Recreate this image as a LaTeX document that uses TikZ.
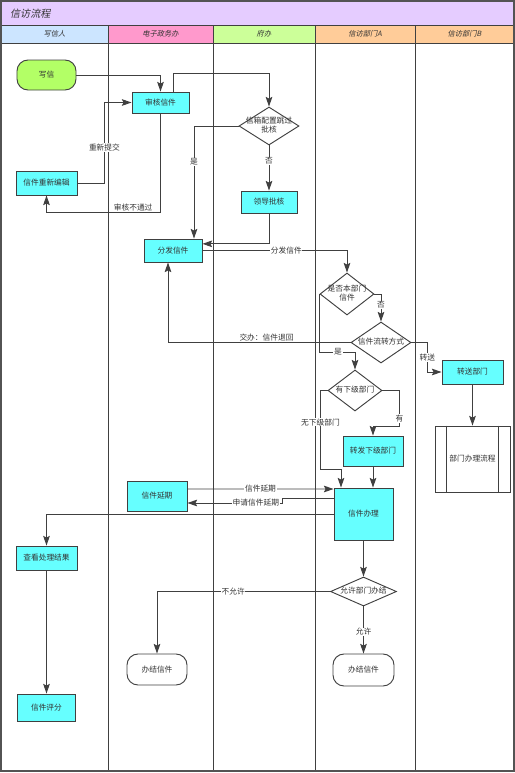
\documentclass[tikz,border=0pt]{standalone}
\usepackage{fontspec}
\newfontfamily\cjk{Noto Sans CJK SC}
\newfontfamily\cjksl[FakeSlant=0.2]{Noto Sans CJK SC}
\usepackage{tikz}
\usetikzlibrary{arrows.meta,positioning,shapes.geometric}
\usepackage{xcolor}
\definecolor{boxc}{HTML}{66FFFF}
\definecolor{startc}{HTML}{B3FF66}
\definecolor{titlec}{HTML}{E5CCFF}
\definecolor{hdA}{HTML}{CCE5FF}
\definecolor{hdB}{HTML}{FF99CC}
\definecolor{hdC}{HTML}{CCFF99}
\definecolor{hdD}{HTML}{FFCC99}
\definecolor{linec}{HTML}{404040}
\definecolor{txtc}{HTML}{333333}
\newcommand{\dtxt}[1]{\makebox[0pt]{\raisebox{\dimexpr(\depth-\height)/2\relax}[0pt][0pt]{\begin{tabular}{@{}c@{}}#1\end{tabular}}}}

\begin{document}
\begin{tikzpicture}[x=0.03cm, y=-0.03cm, every node/.style={font=\cjk\fontsize{6.6}{8.5}\selectfont, text=txtc}]
\tikzset{box/.style={draw=linec, fill=boxc, line width=0.8pt, inner sep=0pt}}
\tikzset{term/.style={draw=linec, rounded corners=0.33cm, line width=0.8pt, minimum width=1.8cm, minimum height=0.93cm, inner sep=0pt}}
\tikzset{dec/.style={draw=linec, diamond, fill=white, line width=0.8pt, inner sep=0pt}}
\tikzset{lbl/.style={fill=white, inner sep=0.6pt}}
\tikzset{arr/.style={draw=linec, line width=0.8pt, -{Stealth[length=2.9mm,width=2mm,inset=0.5mm]}}}
\tikzset{lane/.style={draw=linec, line width=0.8pt}}
\tikzset{hd/.style={font=\cjksl\fontsize{6.2}{7}\selectfont}}
\useasboundingbox (0,0) rectangle (515,773);
\fill[titlec] (1,1) rectangle (514,25);
\fill[hdA] (1,25) rectangle (108,43);
\fill[hdB] (108,25) rectangle (213,43);
\fill[hdC] (213,25) rectangle (315,43);
\fill[hdD] (315,25) rectangle (514,43);
\draw[lane] (1,25) -- (514,25);
\draw[lane] (1,43) -- (514,43);
\foreach \lx in {108,213,315,415}
  \draw[lane] (\lx,25) -- (\lx,771);
\draw[linec!90, line width=1.3pt] (1,1) rectangle (514,771);
\node[font=\cjksl\fontsize{8.6}{9}\selectfont, anchor=west] (ttl) at (6,13.5) {信访流程};
\node[hd] (h1) at (54.5,34) {写信人};
\node[hd] (h2) at (160.5,34) {电子政务办};
\node[hd] (h3) at (264,34) {府办};
\node[hd] (h4) at (365,34) {信访部门A};
\node[hd] (h5) at (464.5,34) {信访部门B};

\node[term, fill=startc, minimum width=1.77cm, minimum height=0.9cm] (xx) at (46.5,75) {写信};
\node[box, minimum width=1.71cm, minimum height=0.63cm] (sh) at (160.5,102.5) {审核信件};
\node[box, minimum width=1.83cm, minimum height=0.72cm] (cb) at (46.5,183) {信件重新编辑};
\node[dec, minimum width=1.8cm, minimum height=1.14cm] (d1) at (269,126) {\dtxt{信箱配置跳过\\批核}};
\node[box, minimum width=1.68cm, minimum height=0.66cm] (ldpd) at (269,202) {领导批核};
\node[box, minimum width=1.74cm, minimum height=0.69cm] (ff) at (173,250.5) {分发信件};
\node[dec, minimum width=1.62cm, minimum height=1.26cm] (d2) at (347,294) {\dtxt{是否本部门\\信件}};
\node[dec, minimum width=1.8cm, minimum height=1.23cm] (d3) at (381,342.5) {\dtxt{信件流转方式}};
\node[dec, minimum width=1.62cm, minimum height=1.23cm] (d4) at (355,390.5) {\dtxt{有下级部门}};
\node[box, minimum width=1.8cm, minimum height=0.9cm] (zf) at (373,451) {转发下级部门};
\node[box, minimum width=1.83cm, minimum height=0.72cm] (zs) at (472.5,372) {转送部门};
\node[draw=linec, line width=0.8pt, fill=white, minimum width=2.25cm, minimum height=1.98cm, inner sep=0pt] (lc) at (472.5,459) {部门办理流程};
\draw[lane] ([xshift=3.6mm]lc.north west) -- ([xshift=3.6mm]lc.south west);
\draw[lane] ([xshift=-3.6mm]lc.north east) -- ([xshift=-3.6mm]lc.south east);
\node[box, minimum width=1.77cm, minimum height=1.56cm] (bl) at (363.5,514) {信件办理};
\node[box, minimum width=1.8cm, minimum height=0.9cm] (yq) at (157,496) {信件延期};
\node[box, minimum width=1.83cm, minimum height=0.72cm] (ck) at (46.5,558) {查看处理结果};
\node[box, minimum width=1.74cm, minimum height=0.81cm] (pf) at (46.5,707.5) {信件评分};
\node[dec, minimum width=1.98cm, minimum height=0.87cm] (d5) at (363.5,591.5) {\dtxt{允许部门办结}};
\node[term, fill=white] (bj1) at (157,669.5) {办结信件};
\node[term, fill=white, minimum width=1.83cm, minimum height=0.96cm] (bj2) at (363.5,670) {办结信件};

\draw[arr] (xx.east) -| (sh.north);
\draw[arr] (cb.east) -- ++(27,0) |- node[lbl, pos=0.22]{重新提交} (sh.west);
\draw[arr] (sh.south) -- ++(0,99) -| node[above, inner sep=1pt, pos=0.12]{审核不通过} (cb.south);
\draw[arr] ([xshift=4mm]sh.north) -- ++(0,-18) -| (d1.north);
\draw[arr] (d1.west) -| node[lbl, pos=0.66]{是} ([xshift=6.3mm]ff.north);
\draw[arr] (d1.south) -- node[lbl, pos=0.35]{否} (ldpd.north);
\draw[arr] (ldpd.south) |- ([yshift=2mm]ff.east);
\draw[arr] (ff.east) -| node[lbl, pos=0.29]{分发信件} (d2.north);
\draw[arr] (d2.east) -| node[lbl, pos=0.7]{否} (d3.north);
\draw[arr] (d2.west) -- ++(0,58) -| node[lbl, pos=0.26]{是} (d4.north);
\draw[arr] (d3.west) -| node[above, inner sep=1pt, pos=0.23]{交办：信件退回} ([xshift=-1.5mm]ff.south);
\draw[arr] (d3.east) -- ++(16,0) |- node[lbl, pos=0.25]{转送} (zs.west);
\draw[arr] (d4.west) -- ++(-7,0) |- node[lbl, pos=0.2]{无下级部门} ([xshift=-6.75mm, yshift=5.4mm]bl.north) -- ([xshift=-6.75mm]bl.north);
\draw[arr] (d4.east) -- ++(17,0) -- node[lbl, pos=0.78]{有} ++(0,36) -| (zf.north);
\draw[arr] (zf.south) -- (zf.south |- bl.north);
\draw[arr] (zs) -- (lc);
\draw[arr] ([yshift=2.1mm]yq.east) -- node[lbl]{信件延期} ([yshift=7.5mm]bl.west);
\draw[arr] ([yshift=4.8mm]bl.west) -- ++(-51,0) |- node[lbl, pos=0.64]{申请信件延期} ([yshift=-2.1mm]yq.east);
\draw[arr] (bl.west) -| (ck.north);
\draw[arr] (ck) -- (pf);
\draw[arr] (bl) -- (d5);
\draw[arr] (d5.west) -| node[lbl, pos=0.28]{不允许} (bj1.north);
\draw[arr] (d5) -- node[lbl, pos=0.54]{允许} (bj2);
\end{tikzpicture}
\end{document}
